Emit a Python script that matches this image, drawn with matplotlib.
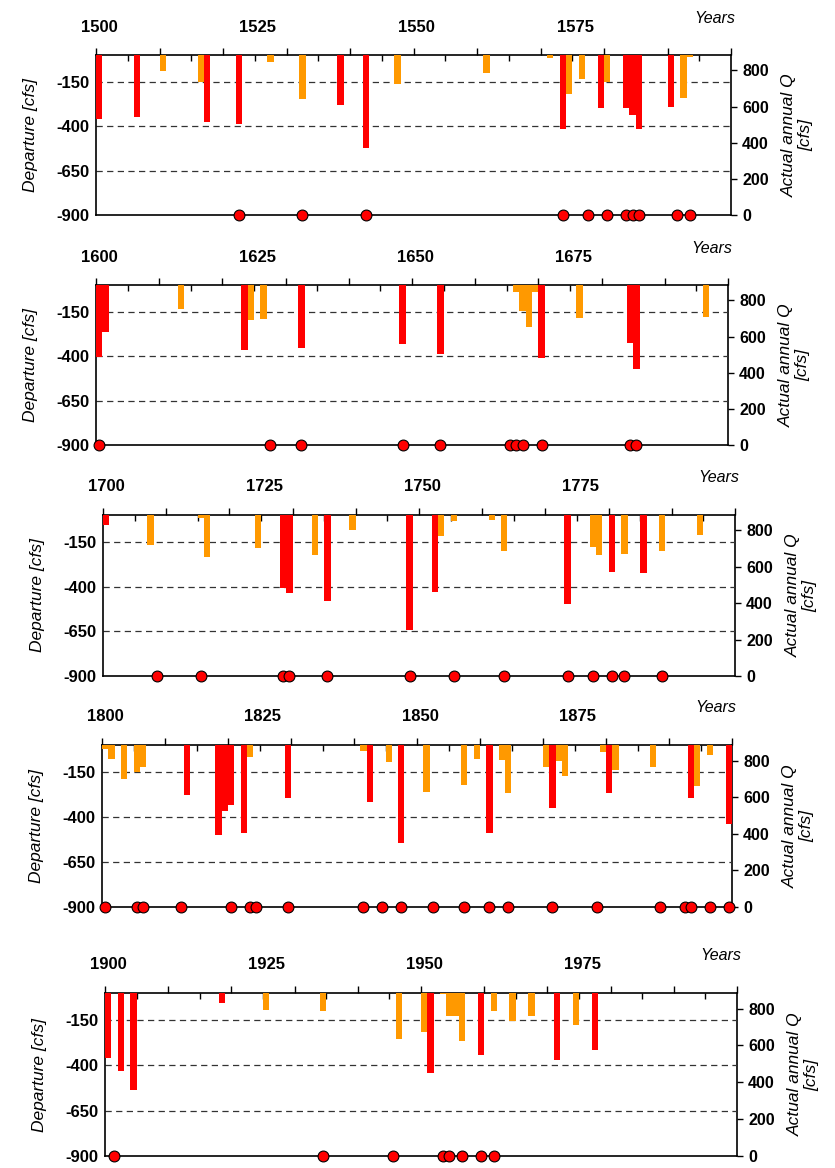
import matplotlib
matplotlib.use("Agg")
import matplotlib.pyplot as plt
import matplotlib.transforms as mtransforms

plt.rcParams['font.family'] = ['Liberation Sans', 'DejaVu Sans']

RED = "#FF0000"
ORANGE = "#FF9900"

# 1500s
red_1500_years = [1500, 1506, 1517, 1522, 1538, 1542, 1573, 1579, 1583, 1584, 1585, 1590]
red_1500_dep = [-362, -349, -375, -388, -281, -521, -418, -300, -300, -337, -418, -292]
orange_1500_years = [1510, 1516, 1527, 1532, 1547, 1561, 1571, 1574, 1576, 1580, 1592, 1593]
orange_1500_dep = [-88, -154, -39, -249, -161, -101, -15, -218, -135, -154, -244, -9]
circles_1500 = [1522, 1532, 1542, 1573, 1577, 1580, 1583, 1584, 1585, 1591, 1593]

# 1600s
red_1600_years = [1600, 1601, 1623, 1632, 1648, 1654, 1670, 1684, 1685]
red_1600_dep = [-407, -263, -364, -356, -334, -388, -413, -326, -474]
orange_1600_years = [1613, 1624, 1626, 1666, 1667, 1668, 1669, 1676, 1696]
orange_1600_dep = [-137, -195, -190, -41, -146, -238, -41, -186, -178]
circles_1600 = [1600, 1627, 1632, 1648, 1654, 1665, 1666, 1667, 1670, 1684, 1685]

# 1700s
red_1700_years = [1700, 1728, 1729, 1735, 1748, 1752, 1773, 1780, 1785]
red_1700_dep = [-56, -409, -435, -478, -643, -431, -495, -319, -326]
orange_1700_years = [1707, 1715, 1716, 1724, 1733, 1739, 1753, 1755, 1761, 1763,
                     1777, 1778, 1782, 1788, 1794]
orange_1700_dep = [-165, -19, -234, -184, -223, -83, -118, -36, -30, -199,
                   -180, -225, -218, -199, -111]
circles_1700 = [1708, 1715, 1728, 1729, 1735, 1748, 1755, 1763, 1773, 1777, 1780, 1782, 1788]

# 1800s
red_1800_years = [1813, 1818, 1819, 1820, 1822, 1829, 1842, 1847, 1861, 1871, 1880, 1893, 1899]
red_1800_dep = [-278, -500, -365, -333, -487, -296, -315, -542, -487, -351, -265, -296, -438]
orange_1800_years = [1800, 1801, 1803, 1805, 1806, 1823, 1841, 1845, 1851, 1857, 1859,
                     1863, 1864, 1870, 1872, 1873, 1879, 1881, 1887, 1894, 1896]
orange_1800_dep = [-20, -78, -189, -152, -120, -65, -31, -96, -259, -222, -78,
                   -85, -265, -122, -91, -170, -41, -139, -122, -228, -54]
circles_1800 = [1800, 1805, 1806, 1812, 1820, 1823, 1824, 1829, 1841, 1844, 1847,
                1852, 1857, 1861, 1864, 1871, 1878, 1888, 1892, 1893, 1896, 1899]

# 1900s
red_1900_years = [1900, 1902, 1904, 1918, 1951, 1959, 1971, 1977]
red_1900_dep = [-360, -433, -533, -55, -439, -341, -372, -315]
orange_1900_years = [1925, 1934, 1946, 1950, 1953, 1954, 1955, 1956, 1961, 1964, 1967, 1974]
orange_1900_dep = [-96, -101, -254, -217, -8, -129, -129, -267, -98, -157, -125, -175]
circles_1900 = [1901, 1934, 1945, 1953, 1954, 1956, 1959, 1961]

centuries = [1500, 1600, 1700, 1800, 1900]
red_years = [red_1500_years, red_1600_years, red_1700_years, red_1800_years, red_1900_years]
red_dep = [red_1500_dep, red_1600_dep, red_1700_dep, red_1800_dep, red_1900_dep]
orange_years = [orange_1500_years, orange_1600_years, orange_1700_years, orange_1800_years, orange_1900_years]
orange_dep = [orange_1500_dep, orange_1600_dep, orange_1700_dep, orange_1800_dep, orange_1900_dep]
circles = [circles_1500, circles_1600, circles_1700, circles_1800, circles_1900]

dep_ticks = [-900, -650, -400, -150]
grid_levels = [-650, -400, -150]
q_ticks = [0, 200, 400, 600, 800]

# axes boxes in pixels: left, right, top, bottom
W, H = 835, 1168
boxes = [(96, 731, 55, 215), (96, 728, 285, 445), (103, 735, 515, 676),
         (102, 732, 745, 907), (105, 737, 993, 1156)]

fig = plt.figure(figsize=(W / 100, H / 100), dpi=100)

for i, start in enumerate(centuries):
    l, r, t, b = boxes[i]
    ax = fig.add_axes([l / W, 1 - b / H, (r - l) / W, (b - t) / H])
    ax.bar(red_years[i], red_dep[i], width=1, align='edge', color=RED, zorder=3)
    ax.bar(orange_years[i], orange_dep[i], width=1, align='edge', color=ORANGE, zorder=3)
    for lev in grid_levels:
        ax.axhline(lev, color='#333333', lw=0.9, ls=(0, (5, 3.5)), zorder=1)
    ax.plot([y + 0.5 for y in circles[i]], [-900] * len(circles[i]), 'o', ms=7.8,
            mfc=RED, mec='black', mew=0.8, clip_on=False, zorder=6)

    ax.set_xlim(start, start + 100)
    ax.set_ylim(-900, 0)
    ax.set_xticks(range(start, start + 101, 10))
    ax.set_xticks(range(start + 5, start + 100, 10), minor=True)
    ax.tick_params(axis='x', which='major', top=True, bottom=False, direction='out',
                   length=5, width=1, labeltop=False, labelbottom=False)
    ax.tick_params(axis='x', which='minor', top=True, bottom=False, direction='in',
                   length=4, width=1)
    ax.set_yticks(dep_ticks)
    ax.set_yticklabels([str(v) for v in dep_ticks], fontweight='bold', fontsize=12)
    ax.tick_params(axis='y', length=0, pad=5)
    for s in ['left', 'top', 'bottom']:
        ax.spines[s].set_linewidth(1.2)
    ax.spines['right'].set_visible(False)

    trans = mtransforms.blended_transform_factory(ax.transData, ax.transAxes)
    for lab in range(start, start + 100, 25):
        ax.text(lab + 0.5, 1.175, str(lab), transform=trans, ha='center', va='center',
                fontsize=12, fontweight='bold')
    ax.text(1.006, 1.23, 'Years', transform=ax.transAxes, ha='right', va='center',
            style='italic', fontsize=11.5)

    ax.set_ylabel('Departure [cfs]', style='italic', fontsize=12.5)
    ax.yaxis.set_label_coords(-58 / (r - l), 0.5)

    ax2 = ax.twinx()
    ax2.set_ylim(0, 885)
    ax2.set_yticks(q_ticks)
    ax2.set_yticklabels([str(v) for v in q_ticks], fontweight='bold', fontsize=11.5)
    ax2.tick_params(axis='y', direction='out', length=4, width=1, pad=4)
    for s in ['left', 'top', 'bottom']:
        ax2.spines[s].set_visible(False)
    ax2.spines['right'].set_linewidth(1.2)
    ax2.set_ylabel('Actual annual Q\n[cfs]', style='italic', fontsize=12.5, linespacing=1.15)
    ax2.yaxis.set_label_coords(1 + 51 / (r - l), 0.5)
    ax.set_zorder(ax2.get_zorder() + 1)
    ax.patch.set_visible(False)

fig.savefig("out.png", dpi=100)
